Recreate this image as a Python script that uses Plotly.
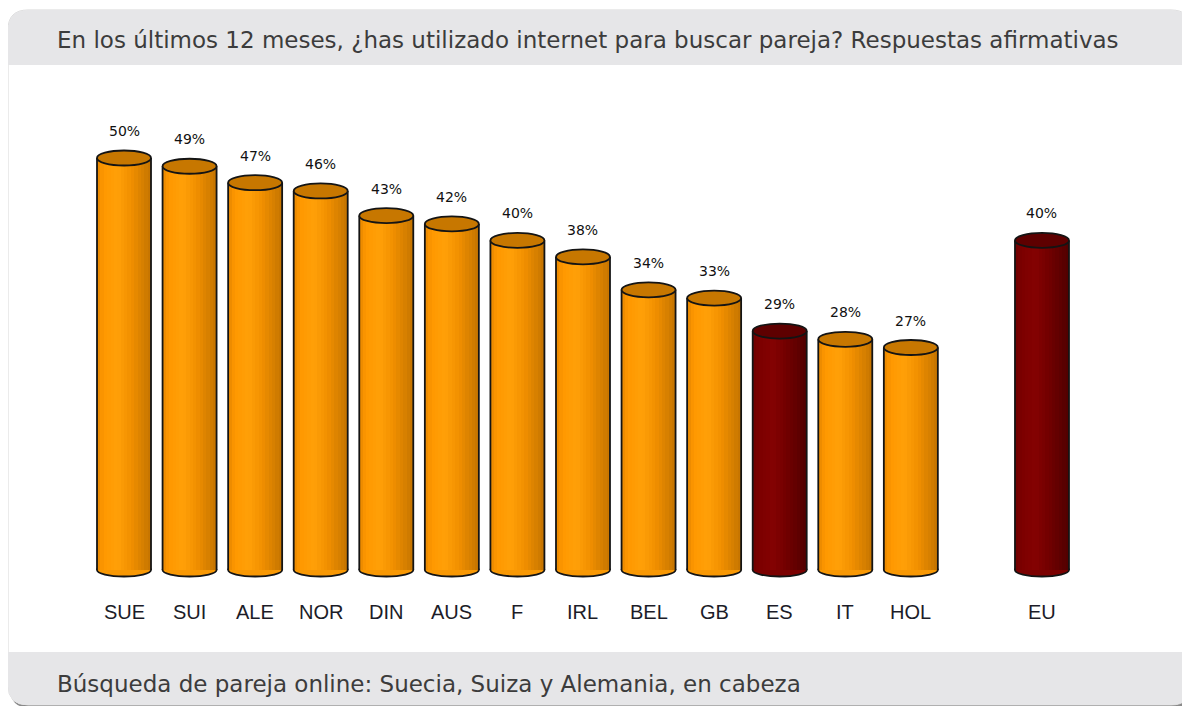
import plotly.graph_objects as go

# ---------------- data ----------------
categories = ["SUE", "SUI", "ALE", "NOR", "DIN", "AUS", "F", "IRL", "BEL", "GB", "ES", "IT", "HOL", "EU"]
values = [50, 49, 47, 46, 43, 42, 40, 38, 34, 33, 29, 28, 27, 40]
highlighted = ["ES", "EU"]
separate = ["EU"]  # shown apart after a gap
title_text = "En los últimos 12 meses, ¿has utilizado internet para buscar pareja? Respuestas afirmativas"
footer_text = "Búsqueda de pareja online: Suecia, Suiza y Alemania, en cabeza"

# ---------------- layout geometry ----------------
W, H = 1190, 706
SH = 8                       # page offset of the figure inside the browser window
ML, MR, MT, MB = 62, 98, 72, 114
PW, PH = W - ML - MR, H - MT - MB
X0PX, XUNIT = 124 - SH, 65.57      # pixel of first bar centre, px per category step
Y0PX, YUNIT = 570 - SH, 8.24       # pixel of 0 %, px per percent
xr = [(ML - X0PX) / XUNIT, (W - MR - X0PX) / XUNIT]
yr = [(Y0PX - (H - MB)) / YUNIT, (Y0PX - MT) / YUNIT]


def px(xp):
    return (xp - SH - ML) / PW


def py(yp):
    return (H - MB - (yp - SH)) / PH


def rrect(x0, y0, x1, y1, r, top=True, bottom=True):
    rt = r if top else 0
    rb = r if bottom else 0
    P = lambda a, b: f"{px(a):.5f},{py(b):.5f}"
    d = f"M{P(x0 + rt, y0)} L{P(x1 - rt, y0)} "
    d += f"Q{P(x1, y0)} {P(x1, y0 + rt)} " if rt else ""
    d += f"L{P(x1, y1 - rb)} "
    d += f"Q{P(x1, y1)} {P(x1 - rb, y1)} " if rb else ""
    d += f"L{P(x0 + rb, y1)} "
    d += f"Q{P(x0, y1)} {P(x0, y1 - rb)} " if rb else ""
    d += f"L{P(x0, y0 + rt)} "
    d += f"Q{P(x0, y0)} {P(x0 + rt, y0)} " if rt else ""
    return d + "Z"


xpos = []
offset = 0
for c in categories:
    if c in separate:
        offset += 1
    xpos.append(len(xpos) + offset)

BW = 54 / XUNIT          # bar width in axis units
EH_TOP = 15 / YUNIT      # ellipse heights in axis units
EH_BOT = 13 / YUNIT


def lerp_color(stops, t):
    for (t0, c0), (t1, c1) in zip(stops, stops[1:]):
        if t0 <= t <= t1:
            f = (t - t0) / (t1 - t0)
            rgb = [round(c0[i] + (c1[i] - c0[i]) * f) for i in range(3)]
            return f"rgb({rgb[0]},{rgb[1]},{rgb[2]})"
    c = stops[-1][1]
    return f"rgb({c[0]},{c[1]},{c[2]})"


orange_stops = [(0, (232, 136, 0)), (0.12, (255, 152, 0)), (0.38, (255, 160, 8)),
                (0.62, (242, 144, 0)), (1, (196, 116, 0))]
red_stops = [(0, (112, 0, 0)), (0.12, (124, 0, 0)), (0.38, (132, 2, 2)),
             (0.62, (114, 0, 0)), (1, (80, 0, 0))]

fig = go.Figure()

N = 16
for k in range(N):
    t = (k + 0.5) / N
    cols = [lerp_color(red_stops if c in highlighted else orange_stops, t) for c in categories]
    wk = BW / N * (1.25 if k < N - 1 else 1.0)
    fig.add_trace(go.Bar(
        x=xpos, y=values, width=[wk] * len(values), offset=-BW / 2 + k * BW / N,
        marker=dict(color=cols, line=dict(width=0)), hoverinfo="skip", showlegend=False))

shapes = []
# card shadow, card, header, footer
shapes.append(dict(type="path", xref="paper", yref="paper", layer="below",
                   path=rrect(10, 12, 1194, 708, 20), fillcolor="#8a8a8a", line=dict(width=0)))
shapes.append(dict(type="path", xref="paper", yref="paper", layer="below",
                   path=rrect(8, 10, 1191, 705, 20), fillcolor="white", line=dict(color="#d8d8d8", width=1)))
shapes.append(dict(type="path", xref="paper", yref="paper", layer="below",
                   path=rrect(8, 10, 1191, 65, 20, bottom=False), fillcolor="#e6e6e8", line=dict(width=0)))
shapes.append(dict(type="path", xref="paper", yref="paper", layer="below",
                   path=rrect(8, 652, 1191, 705, 20, top=False), fillcolor="#e6e6e8", line=dict(width=0)))

for c, x, v in zip(categories, xpos, values):
    hl = c in highlighted
    body = lerp_color(red_stops if hl else orange_stops, 0.5)
    topc = "#5e0000" if hl else "#c77700"
    # bottom rim
    shapes.append(dict(type="circle", xref="x", yref="y", layer="below",
                       x0=x - BW / 2, x1=x + BW / 2, y0=-EH_BOT / 2, y1=EH_BOT / 2,
                       fillcolor=body, line=dict(color="#141414", width=1.8)))
    # sides
    for sx in (x - BW / 2, x + BW / 2):
        shapes.append(dict(type="line", xref="x", yref="y", layer="above",
                           x0=sx, x1=sx, y0=0, y1=v, line=dict(color="#141414", width=1.8)))
    # top cap
    shapes.append(dict(type="circle", xref="x", yref="y", layer="above",
                       x0=x - BW / 2, x1=x + BW / 2, y0=v - EH_TOP / 2, y1=v + EH_TOP / 2,
                       fillcolor=topc, line=dict(color="#141414", width=1.8)))

annotations = []
for c, x, v in zip(categories, xpos, values):
    annotations.append(dict(x=x, y=v, xref="x", yref="y", text=f"{v}%", showarrow=False,
                            yshift=27, font=dict(family="DejaVu Sans", size=14, color="#111")))
    annotations.append(dict(x=x, y=0, xref="x", yref="y", text=c, showarrow=False,
                            yshift=-42, font=dict(family="Liberation Sans, Arial", size=20, color="#1c1c28")))

annotations.append(dict(x=px(55), y=py(40), xref="paper", yref="paper", text=title_text,
                        showarrow=False, xanchor="left", yanchor="middle",
                        font=dict(family="DejaVu Sans", size=23, color="#3c3c3c")))
annotations.append(dict(x=px(55), y=py(684), xref="paper", yref="paper", text=footer_text,
                        showarrow=False, xanchor="left", yanchor="middle",
                        font=dict(family="DejaVu Sans", size=23, color="#3c3c3c")))

fig.update_layout(
    width=W, height=H, margin=dict(l=ML, r=MR, t=MT, b=MB),
    paper_bgcolor="white", plot_bgcolor="rgba(0,0,0,0)",
    barmode="overlay", bargap=0,
    xaxis=dict(range=xr, visible=False, fixedrange=True),
    yaxis=dict(range=yr, visible=False, fixedrange=True),
    shapes=shapes, annotations=annotations, showlegend=False,
)

fig.write_html("out.html", config={"displayModeBar": False})
